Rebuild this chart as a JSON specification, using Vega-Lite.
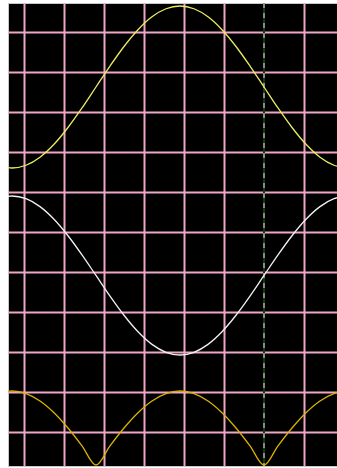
{
  "$schema": "https://vega.github.io/schema/vega-lite/v6.json",
  "width": 329,
  "height": 463,
  "autosize": {"type": "none"},
  "padding": {"left": 8, "top": 3, "right": 0, "bottom": 2},
  "background": "white",
  "config": {
    "view": {"fill": "black", "stroke": "#c8c8c8", "strokeWidth": 1},
    "axis": {
      "grid": true,
      "gridColor": "#eea6c6",
      "gridWidth": 2,
      "gridOpacity": 1,
      "labels": false,
      "ticks": false,
      "domain": false,
      "title": null
    }
  },
  "datasets": {
    "traces": [
      {"x": -0.65, "y": 6.669, "s": "a"}, {"x": -0.3, "y": 6.6, "s": "a"}, {"x": 0.05, "y": 6.669, "s": "a"}, {"x": 0.4, "y": 6.871, "s": "a"}, {"x": 0.75, "y": 7.193, "s": "a"}, {"x": 1.1, "y": 7.613, "s": "a"}, {"x": 1.45, "y": 8.101, "s": "a"}, {"x": 1.8, "y": 8.625, "s": "a"}, {"x": 2.15, "y": 9.149, "s": "a"}, {"x": 2.5, "y": 9.638, "s": "a"}, {"x": 2.85, "y": 10.057, "s": "a"}, {"x": 3.2, "y": 10.379, "s": "a"}, {"x": 3.55, "y": 10.581, "s": "a"}, {"x": 3.9, "y": 10.65, "s": "a"}, {"x": 4.25, "y": 10.581, "s": "a"}, {"x": 4.6, "y": 10.379, "s": "a"}, {"x": 4.95, "y": 10.057, "s": "a"}, {"x": 5.3, "y": 9.638, "s": "a"}, {"x": 5.65, "y": 9.149, "s": "a"}, {"x": 6.0, "y": 8.625, "s": "a"}, {"x": 6.35, "y": 8.101, "s": "a"}, {"x": 6.7, "y": 7.613, "s": "a"}, {"x": 7.05, "y": 7.193, "s": "a"}, {"x": 7.4, "y": 6.871, "s": "a"}, {"x": 7.75, "y": 6.669, "s": "a"}, {"x": 8.1, "y": 6.6, "s": "a"},
      {"x": -0.65, "y": 5.832, "s": "b"}, {"x": -0.3, "y": 5.9, "s": "b"}, {"x": 0.05, "y": 5.832, "s": "b"}, {"x": 0.4, "y": 5.634, "s": "b"}, {"x": 0.75, "y": 5.318, "s": "b"}, {"x": 1.1, "y": 4.906, "s": "b"}, {"x": 1.45, "y": 4.427, "s": "b"}, {"x": 1.8, "y": 3.913, "s": "b"}, {"x": 2.15, "y": 3.398, "s": "b"}, {"x": 2.5, "y": 2.919, "s": "b"}, {"x": 2.85, "y": 2.507, "s": "b"}, {"x": 3.2, "y": 2.191, "s": "b"}, {"x": 3.55, "y": 1.993, "s": "b"}, {"x": 3.9, "y": 1.925, "s": "b"}, {"x": 4.25, "y": 1.993, "s": "b"}, {"x": 4.6, "y": 2.191, "s": "b"}, {"x": 4.95, "y": 2.507, "s": "b"}, {"x": 5.3, "y": 2.919, "s": "b"}, {"x": 5.65, "y": 3.398, "s": "b"}, {"x": 6.0, "y": 3.913, "s": "b"}, {"x": 6.35, "y": 4.427, "s": "b"}, {"x": 6.7, "y": 4.906, "s": "b"}, {"x": 7.05, "y": 5.318, "s": "b"}, {"x": 7.4, "y": 5.634, "s": "b"}, {"x": 7.75, "y": 5.832, "s": "b"}, {"x": 8.1, "y": 5.9, "s": "b"},
      {"x": -0.65, "y": 0.962, "s": "c"}, {"x": -0.3, "y": 1.025, "s": "c"}, {"x": 0.05, "y": 0.962, "s": "c"}, {"x": 0.4, "y": 0.777, "s": "c"}, {"x": 0.75, "y": 0.483, "s": "c"}, {"x": 1.1, "y": 0.1, "s": "c"}, {"x": 1.45, "y": -0.346, "s": "c"}, {"x": 1.8, "y": -0.825, "s": "c"}, {"x": 2.15, "y": -0.346, "s": "c"}, {"x": 2.5, "y": 0.1, "s": "c"}, {"x": 2.85, "y": 0.483, "s": "c"}, {"x": 3.2, "y": 0.777, "s": "c"}, {"x": 3.55, "y": 0.962, "s": "c"}, {"x": 3.9, "y": 1.025, "s": "c"}, {"x": 4.25, "y": 0.962, "s": "c"}, {"x": 4.6, "y": 0.777, "s": "c"}, {"x": 4.95, "y": 0.483, "s": "c"}, {"x": 5.3, "y": 0.1, "s": "c"}, {"x": 5.65, "y": -0.346, "s": "c"}, {"x": 6.0, "y": -0.825, "s": "c"}, {"x": 6.35, "y": -0.346, "s": "c"}, {"x": 6.7, "y": 0.1, "s": "c"}, {"x": 7.05, "y": 0.483, "s": "c"}, {"x": 7.4, "y": 0.777, "s": "c"}, {"x": 7.75, "y": 0.962, "s": "c"}, {"x": 8.1, "y": 1.025, "s": "c"}
    ],
    "cursor": [{"x": 6}]
  },
  "layer": [
    {
      "data": {"name": "cursor"},
      "mark": {"type": "rule", "color": "#0b3d0b", "strokeWidth": 2},
      "encoding": {
        "x": {"field": "x", "type": "quantitative", "scale": {"domain": [-0.4, 7.825], "nice": false, "zero": false}, "axis": {"values": [0, 1, 2, 3, 4, 5, 7]}, "title": null}
      }
    },
    {
      "data": {"name": "cursor"},
      "mark": {"type": "rule", "color": "#8a8a8a", "strokeWidth": 2, "strokeDash": [5, 5]},
      "encoding": {
        "x": {"field": "x", "type": "quantitative", "axis": {"values": [0, 1, 2, 3, 4, 5, 7]}, "title": null}
      }
    },
    {
      "data": {"name": "traces"},
      "mark": {"type": "line", "interpolate": "monotone", "strokeWidth": 1.3, "clip": true},
      "encoding": {
        "x": {"field": "x", "type": "quantitative", "axis": {"values": [0, 1, 2, 3, 4, 5, 7]}, "title": null},
        "y": {"field": "y", "type": "quantitative", "scale": {"domain": [-0.85, 10.725], "nice": false, "zero": false}, "axis": {"values": [0, 1, 2, 3, 4, 5, 6, 7, 8, 9, 10]}, "title": null},
        "color": {"field": "s", "type": "nominal", "scale": {"domain": ["a", "b", "c"], "range": ["#ecec62", "#f2f2f2", "#d9b300"]}, "legend": null}
      }
    }
  ]
}
